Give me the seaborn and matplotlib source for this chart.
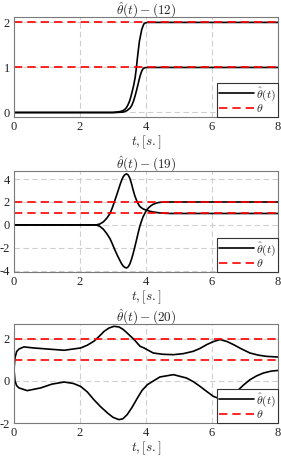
import numpy as np
import pandas as pd
import matplotlib
matplotlib.use("Agg")
import matplotlib.pyplot as plt
import seaborn as sns

# values
theta = [1, 2]

t1_hi = [0, 3.0, 3.21, 3.3, 3.36, 3.41, 3.46, 3.51, 3.56, 3.62, 3.67, 3.71, 3.74, 3.77, 3.8,
         3.84, 3.87, 3.91, 3.94, 3.98, 4.04, 8]
p1_hi = [0, 0, 0.02, 0.04, 0.07, 0.11, 0.18, 0.27, 0.4, 0.58, 0.77, 1.0, 1.21, 1.4, 1.58,
         1.73, 1.84, 1.92, 1.97, 1.99, 2.0, 2.0]
t1_lo = [0, 3.1, 3.31, 3.42, 3.52, 3.57, 3.62, 3.67, 3.72, 3.77, 3.82, 3.87, 3.92, 3.97, 4.03, 8]
p1_lo = [0, 0, 0.01, 0.04, 0.1, 0.16, 0.25, 0.37, 0.51, 0.66, 0.81, 0.92, 0.98, 0.995, 1.0, 1.0]

t2 = [0, 2.3, 2.5, 2.6, 2.71, 2.81, 2.91, 2.98, 3.06, 3.14, 3.21, 3.26, 3.31, 3.36, 3.41,
      3.46, 3.51, 3.56, 3.61, 3.66, 3.71, 3.76, 3.81, 3.86, 3.91, 3.98, 4.06, 4.13, 4.21,
      4.31, 4.41, 4.55, 4.71, 5.0, 5.4, 8]
p2_hi = [0, 0, 0.01, 0.08, 0.27, 0.58, 1.0, 1.5, 2.17, 2.85, 3.48, 3.88, 4.2, 4.38, 4.45,
         4.35, 4.07, 3.6, 3.05, 2.55, 2.17, 1.85, 1.62, 1.5, 1.4, 1.32, 1.25, 1.18, 1.13,
         1.09, 1.05, 1.02, 1.0, 1.0, 1.0, 1.0]
p2_lo = [0, 0, -0.01, -0.12, -0.38, -0.75, -1.2, -1.65, -2.2, -2.7, -3.1, -3.38, -3.58, -3.7, -3.75,
         -3.65, -3.4, -3.0, -2.5, -1.93, -1.34, -0.72, -0.15, 0.3, 0.7, 1.1, 1.44, 1.63, 1.79,
         1.9, 1.97, 1.99, 2.0, 2.0, 2.0, 2.0]

t3_hi = [0, 0.03, 0.08, 0.15, 0.3, 0.6, 1.01, 1.52, 2.02, 2.22, 2.42, 2.58, 2.73, 2.88, 3.03,
         3.18, 3.3, 3.43, 3.64, 3.82, 3.94, 4.22, 4.5, 4.83, 5.13, 5.43, 5.64, 5.84, 6.04,
         6.24, 6.45, 6.65, 6.9, 7.15, 7.4, 7.65, 8]
p3_hi = [0.55, 1.1, 1.4, 1.52, 1.62, 1.57, 1.52, 1.46, 1.57, 1.7, 1.89, 2.12, 2.36, 2.52, 2.6,
         2.57, 2.46, 2.28, 1.97, 1.65, 1.57, 1.33, 1.27, 1.25, 1.3, 1.41, 1.55, 1.73, 1.87,
         1.97, 1.88, 1.73, 1.52, 1.33, 1.23, 1.17, 1.14]
t3_lo = [0, 0.03, 0.08, 0.15, 0.4, 0.81, 1.15, 1.52, 1.8, 2.02, 2.22, 2.42, 2.62, 2.83, 3.0,
         3.18, 3.3, 3.43, 3.58, 3.74, 3.88, 4.04, 4.12, 4.42, 4.83, 5.23, 5.44, 5.64, 5.84,
         6.04, 6.25, 6.5, 6.75, 6.95, 7.15, 7.35, 7.56, 7.8, 8]
p3_lo = [0.55, 0.0, -0.22, -0.33, -0.46, -0.33, -0.15, -0.05, -0.12, -0.26, -0.52, -0.89, -1.22, -1.52, -1.73,
         -1.84, -1.8, -1.6, -1.25, -0.81, -0.45, -0.18, -0.1, 0.19, 0.3, 0.14, -0.04, -0.26, -0.5,
         -0.73, -0.86, -0.82, -0.5, -0.2, 0.06, 0.24, 0.38, 0.47, 0.5]

titles = [r"$\hat{\theta}(t) - (12)$", r"$\hat{\theta}(t) - (19)$", r"$\hat{\theta}(t) - (20)$"]
yticks = [[0, 1, 2], [-4, -2, 0, 2, 4], [-2, 0, 2]]
ylims = [(-0.1, 2.12), (-4.1, 4.7), (-2.0, 2.71)]
xticks = [0, 2, 4, 6, 8]

panels = [
    [(t1_hi, p1_hi), (t1_lo, p1_lo)],
    [(t2, p2_hi), (t2, p2_lo)],
    [(t3_hi, p3_hi), (t3_lo, p3_lo)],
]

sns.set_theme(style="white")
plt.rcParams["font.family"] = ["Liberation Serif", "DejaVu Serif"]
plt.rcParams["mathtext.fontset"] = "cm"
plt.rcParams["axes.unicode_minus"] = False

fig = plt.figure(figsize=(2.81, 4.57), dpi=100)
# axes boxes in pixels: (left, top, right, bottom)
boxes = [(14, 17, 278, 117), (14, 171, 278, 272), (14, 324, 278, 423)]

for i, (box, curves) in enumerate(zip(boxes, panels)):
    l, tp, r, b = box
    ax = fig.add_axes([l / 281, 1 - b / 457, (r - l) / 281, (b - tp) / 457])

    for j, (tt, yy) in enumerate(curves):
        df = pd.DataFrame({"t": tt, "y": yy})
        sns.lineplot(data=df, x="t", y="y", ax=ax, color="black", lw=1.2,
                     sort=False, label=r"$\hat{\theta}(t)$" if j == 0 else None)
    for j, th in enumerate(theta):
        ax.axhline(th, color="#ff0000", lw=1.2, dashes=(5, 3),
                   label=r"$\theta$" if j == 0 else None)

    ax.set_xlim(0, 8)
    ax.set_ylim(*ylims[i])
    ax.set_xticks(xticks)
    ax.set_yticks(yticks[i])
    ax.set_title(titles[i], fontsize=9.5, pad=2)
    ax.set_xlabel(r"$t, [s.]$", fontsize=9.5, labelpad=0)
    ax.set_ylabel("")
    ax.tick_params(direction="in", length=2, width=0.6, labelsize=9, pad=3,
                   colors="#222222")
    ax.grid(True, color="#cfcfcf", lw=0.8, ls=(0, (5, 3)))
    for s in ax.spines.values():
        s.set_color("#7a7a7a")
        s.set_linewidth(0.8)

    leg = ax.legend(loc="lower right", borderaxespad=0, fontsize=8.5,
                    handlelength=3.0, handletextpad=0.2, borderpad=0.15,
                    labelspacing=0.05, fancybox=False, framealpha=1)
    leg.get_frame().set_edgecolor("#333333")
    leg.get_frame().set_linewidth(0.8)

fig.savefig("out.png", dpi=100)
